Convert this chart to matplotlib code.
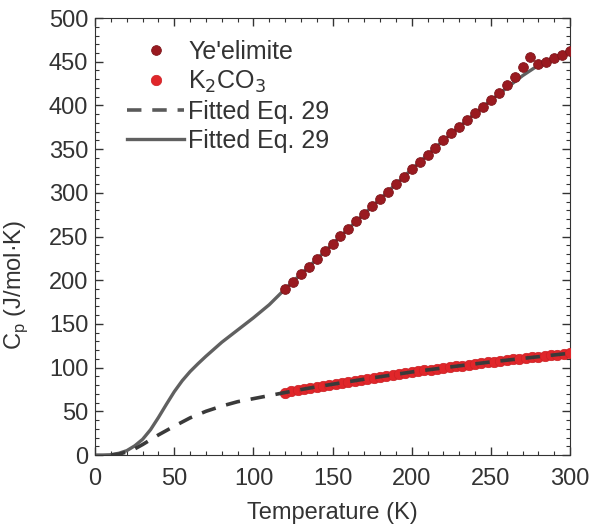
import matplotlib.pyplot as plt
from matplotlib.ticker import MultipleLocator

plt.rcParams['font.family'] = ['Liberation Sans', 'DejaVu Sans']

# Ye'elimite Messpunkte
ye_T = list(range(120, 301, 5))
ye_cp = [190, 198.5, 207, 215.5, 224, 233, 242, 250.5, 259, 267.5, 276, 284.5,
         293, 301.5, 310, 318.5, 327, 335, 343.5, 351.5, 360, 368, 375.5, 383.5,
         391, 398.5, 406, 414, 423, 433, 444, 455, 447, 450, 454, 458, 462]

# K2CO3 Messpunkte
k_T = list(range(120, 301, 4))
k_cp = [71.5, 72.8, 74.0, 75.3, 76.6, 77.8, 79.1, 80.4, 81.6, 82.7, 83.8, 84.9,
        86.0, 87.2, 88.3, 89.4, 90.5, 91.6, 92.8, 93.9, 95.0, 95.9, 96.8, 97.8,
        98.7, 99.6, 100.5, 101.4, 102.4, 103.3, 104.2, 105.1, 106.0, 106.9, 107.7,
        108.5, 109.3, 110.1, 110.9, 111.7, 112.5, 113.3, 114.1, 114.9, 115.7, 116.5]

# Fit Ye'elimite (durchgezogen)
fit_ye_T = [0, 5, 10, 15, 20, 25, 30, 35, 40, 45, 50, 55, 60, 65, 70, 75, 80, 85,
            90, 95, 100, 105, 110, 115, 120, 130, 140, 150, 160, 170, 180, 190,
            200, 210, 220, 230, 240, 250, 260, 270, 280, 290, 300]
fit_ye_cp = [0, 0, 0.3, 2, 5, 10.5, 18, 29, 43, 58, 72.5, 85, 95.5, 104.5, 113, 121,
             129, 136, 143, 150, 157, 164.5, 172, 181, 190, 207, 224, 241.5, 259,
             276, 293, 310, 327, 343.5, 360, 375.5, 391, 406, 420, 434, 446, 455, 463]

# Fit K2CO3 (gestrichelt)
fit_k_T = [10, 15, 20, 25, 30, 35, 40, 45, 50, 60, 70, 80, 90, 100, 110, 120,
           135, 150, 175, 200, 225, 250, 275, 300]
fit_k_cp = [0, 1, 3.5, 7, 12, 17.5, 23, 28, 33, 42.5, 50, 56, 61, 64.5, 68, 71.5,
            76.5, 81, 88.2, 95, 100.9, 106.5, 111.5, 116.5]

fig = plt.figure(figsize=(5.91, 5.27), dpi=100)
ax = fig.add_axes([0.161, 0.1366, 0.8035, 0.8292])

ax.plot(fit_ye_T, fit_ye_cp, color="#606060", lw=2.4, zorder=2)
ax.plot(ye_T, ye_cp, "o", color="#9a1a20", ms=7, mec="#7e161b", mew=0.6,
        zorder=3, label="Ye'elimite")
ax.plot(k_T, k_cp, "o", color="#e0262a", ms=7.5, mec="#cc2024", mew=0.5,
        zorder=3, label="K$_2$CO$_3$")
ax.plot(fit_k_T, fit_k_cp, color="#3a3a3a", lw=2.6, dashes=(4, 3), zorder=4)

# Legende: Reihenfolge wie im Original
h_dash, = ax.plot([], [], color="#5a5a5a", lw=2.6, dashes=(4, 3))
h_solid, = ax.plot([], [], color="#606060", lw=2.4)
handles = ax.get_legend_handles_labels()[0][:2] + [h_dash, h_solid]
labels = ["Ye'elimite", "K$_2$CO$_3$", "Fitted Eq. 29", "Fitted Eq. 29"]
ax.legend(handles, labels, loc="upper left", bbox_to_anchor=(0.035, 0.985),
          frameon=False, fontsize=18, handlelength=2.3, handletextpad=0.15,
          labelspacing=0.2, borderaxespad=0.2, labelcolor="#333333")

ax.set_xlim(0, 300)
ax.set_ylim(0, 500)
ax.xaxis.set_major_locator(MultipleLocator(50))
ax.xaxis.set_minor_locator(MultipleLocator(10))
ax.yaxis.set_major_locator(MultipleLocator(50))
ax.yaxis.set_minor_locator(MultipleLocator(10))
ax.tick_params(which="both", direction="in", top=True, right=True,
               colors="#333333", labelcolor="#333333", labelsize=17)
ax.tick_params(which="major", length=6, width=1, pad=5)
ax.tick_params(axis="x", which="major", pad=9)
ax.tick_params(which="minor", length=3, width=0.8)
for s in ax.spines.values():
    s.set_color("#333333")

ax.set_xlabel("Temperature (K)", fontsize=17, color="#333333", labelpad=9)
ax.set_ylabel("C$_\\mathregular{p}$ (J/mol·K)", fontsize=17, color="#333333")
ax.yaxis.set_label_coords(-0.137, 0.39)

plt.savefig("out.png", dpi=100)
